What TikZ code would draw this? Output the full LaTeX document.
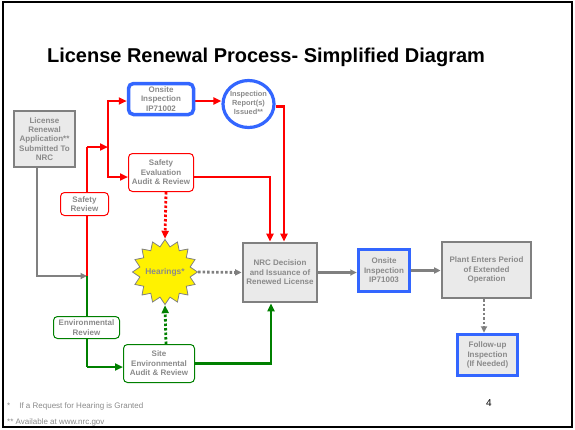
\documentclass[tikz,border=0pt]{standalone}
\usepackage{fontspec}
\setmainfont{Liberation Sans}
\usetikzlibrary{shapes.geometric,arrows.meta,backgrounds,calc}
\definecolor{tgray}{RGB}{138,138,138}
\definecolor{lgray}{RGB}{128,128,128}
\definecolor{boxfill}{RGB}{234,234,234}
\definecolor{bblue}{RGB}{51,102,255}
\definecolor{rred}{RGB}{255,0,0}
\definecolor{ggreen}{RGB}{0,128,0}
\begin{document}
\begin{tikzpicture}[x=1pt,y=-1pt,
  every node/.style={font=\fontsize{8}{9.4}\selectfont\bfseries, text=tgray, align=center, inner sep=0pt},
  graybox/.style={draw=lgray, line width=2.8pt, fill=boxfill},
  bluebox/.style={draw=bblue, line width=3.5pt, fill=boxfill},
  bluernd/.style={draw=bblue, line width=3.5pt, fill=white, rounded corners=5pt},
  redrnd/.style={draw=rred, line width=1pt, fill=white, rounded corners=4pt},
  greenrnd/.style={draw=ggreen, line width=1pt, fill=white, rounded corners=4pt},
  tip/.style={-{Triangle[length=8pt,width=7pt]}},
  smalltip/.style={-{Triangle[length=6.5pt,width=6pt]}},
  redline/.style={draw=rred, line width=2.5pt},
  greenline/.style={draw=ggreen, line width=2.5pt},
  grayline/.style={draw=lgray, line width=2.5pt},
  dotline/.style={line width=2.8pt, dash pattern=on 2.5pt off 2pt}
]
\useasboundingbox (0,0) rectangle (575,429);
\draw[black, line width=2pt] (3,2) rectangle (572,427);

\node[font=\fontsize{20}{22}\selectfont\bfseries, text=black] (title) at (266,57) {License Renewal Process- Simplified Diagram};

\node[graybox, minimum width=61pt, minimum height=56pt] (app) at (44.5,139) {License\\Renewal\\Application**\\Submitted To\\NRC};
\node[bluernd, minimum width=65pt, minimum height=31pt] (ip1) at (161,99) {Onsite\\Inspection\\IP71002};
\node[ellipse, draw=bblue, line width=3.2pt, fill=white, inner xsep=-6pt, inner ysep=-2pt, minimum width=51pt, minimum height=47pt] (rep) at (248.5,104) {};
\node[font=\fontsize{7.4}{9.1}\selectfont\bfseries] (reptext) at ([yshift=1.5pt]rep.center) {Inspection\\Report(s)\\Issued**};
\node[redrnd, minimum width=65pt, minimum height=38pt] (se) at (161,172.5) {Safety\\Evaluation\\Audit \& Review};
\node[redrnd, minimum width=48pt, minimum height=23pt] (sr) at (84.5,204) {Safety\\Review};
\node[star, star points=16, star point ratio=1.27, minimum size=65pt, draw=lgray, line width=0.8pt, fill=yellow] (hear) at (165,272) {};
\node[font=\fontsize{8.4}{10}\selectfont\bfseries] (heartext) at (hear.center) {Hearings*};
\node[graybox, minimum width=74pt, minimum height=59pt] (nrc) at (280,272.5) {NRC Decision\\and Issuance of\\Renewed License};
\node[bluebox, minimum width=51pt, minimum height=42pt] (ip3) at (384,270.5) {Onsite\\Inspection\\IP71003};
\node[graybox, minimum width=89pt, minimum height=56pt] (plant) at (486.5,270) {Plant Enters Period\\of Extended\\Operation};
\node[bluebox, minimum width=60pt, minimum height=41pt] (fu) at (487.5,355) {Follow-up\\Inspection\\(If Needed)};
\node[greenrnd, minimum width=66pt, minimum height=22pt] (er) at (86.5,327.5) {Environmental\\Review};
\node[greenrnd, minimum width=71pt, minimum height=38pt] (site) at (159,363.5) {Site\\Environmental\\Audit \& Review};

\coordinate (j0) at (87,276);
\coordinate (j1) at (87,147);
\coordinate (j2) at (108,147);
\coordinate (j3) at (87,367);

\begin{scope}[on background layer]
\draw[grayline, smalltip] ([xshift=-7.5pt]app.south) |- (j0);
\draw[redline] (j0) -- (j1);
\draw[redline, tip] (j1) -- (j2);
\draw[redline, tip] (j2) |- ([yshift=-2pt]ip1.west);
\draw[redline, tip] (j2) |- ([yshift=-4.5pt]se.west);
\draw[redline, tip] ([yshift=-2pt]ip1.east) -- ([yshift=-2pt]ip1.east -| rep.west);
\draw[redline, tip] ([yshift=-2.5pt]rep.east) -| ([xshift=4pt]nrc.north);
\draw[redline, tip] ([yshift=-4.5pt]se.east) -| ([xshift=-10pt]nrc.north);
\draw[rred, dotline, tip] ([xshift=5pt]se.south) -- (hear.north);
\draw[lgray, dotline, smalltip] (hear.east) -- (nrc.west);
\draw[grayline, smalltip] (nrc.east) -- (nrc.east -| ip3.west);
\draw[grayline, smalltip] (ip3.east) -- (ip3.east -| plant.west);
\draw[lgray, dotline, smalltip] ([xshift=-2.5pt]plant.south) -- ([xshift=-3.5pt]fu.north);
\draw[greenline] (j0) -- (j3);
\draw[greenline, tip] (j3) -- (j3 -| site.west);
\draw[greenline, tip] (site.east) -| ([xshift=-9pt]nrc.south);
\draw[ggreen, dotline, tip] ([xshift=7pt]site.north) -- (hear.south);
\end{scope}

\node[anchor=west, font=\fontsize{8}{9}\selectfont] (fn1) at (7,406) {*\hspace{9pt}If a Request for Hearing is Granted};
\node[anchor=west, font=\fontsize{8}{9}\selectfont] (fn2) at (7,422) {** Available at www.nrc.gov};
\node[font=\fontsize{10}{12}\selectfont, text=black] (pg) at (489,403) {4};
\end{tikzpicture}
\end{document}
